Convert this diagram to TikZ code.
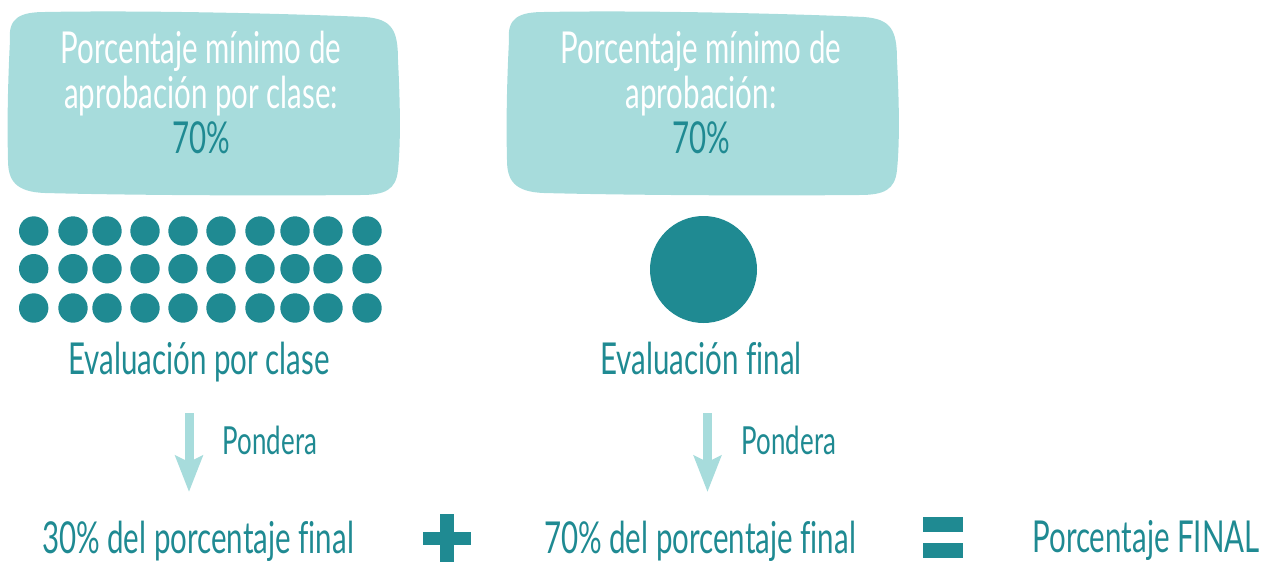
\documentclass[tikz,border=0pt]{standalone}
\usepackage{fontspec}
\setmainfont{Lato}[FakeStretch=0.67,Ligatures=NoCommon]
\usetikzlibrary{arrows.meta}

\definecolor{tealdark}{HTML}{1F8A92}
\definecolor{teallight}{HTML}{A7DCDC}

\tikzset{
 txt/.style={font=\fontsize{33}{33.75}\selectfont, text=tealdark, inner sep=0pt, anchor=base},
 boxtxt/.style={txt, text=white, align=center},
 smalltxt/.style={txt, font=\fontsize{29}{30}\selectfont},
 flecha/.style={draw=teallight, line width=6.75pt,
   -{Stealth[length=27pt,width=20.25pt,inset=4.5pt]}}
}

\begin{document}
\begin{tikzpicture}[x=0.75pt,y=-0.75pt]
\useasboundingbox (0,0) rectangle (1263,561);

\newcommand{\blob}[1] % [x shift]
{
 \fill[teallight,shift={(#1,0)}] (10,40)
   .. controls (8,18) and (20,12) .. (45,12)
   .. controls (150,10) and (300,14) .. (365,17)
   .. controls (392,19) and (398,30) .. (398,60)
   .. controls (400,100) and (401,140) .. (398,170)
   .. controls (396,190) and (385,195) .. (360,195)
   .. controls (250,196) and (120,195) .. (45,193)
   .. controls (15,192) and (8,180) .. (8,160)
   .. controls (7,120) and (8,80) .. (10,40) -- cycle;
}
\blob{0} \blob{499}

\node[boxtxt] (minclase) at (201,153)
 {Porcentaje mínimo de\\aprobación por clase:\\\textcolor{tealdark}{70\%}};
\node[boxtxt] (minfinal) at (701,153)
 {Porcentaje mínimo de\\aprobación:\\\textcolor{tealdark}{70\%}};

% evaluaciones por clase
\foreach \y in {231,268.7,308}
 \foreach \x in {33.7,73,107,145,183,221,260,295,328,367}
  \fill[tealdark] (\x,\y) circle (14.7);
% evaluacion final
\fill[tealdark] (703.5,269.5) circle (53.5);

\node[txt] (evclase) at (199,374) {Evaluación por clase};
\node[txt] (evfinal) at (701,374) {Evaluación final};

\coordinate (clasetop) at (189,413);
\coordinate (clasetip) at (189,492);
\coordinate (finaltop) at (707.5,413);
\coordinate (finaltip) at (707.5,492);
\draw[flecha] (clasetop) -- (clasetip);
\draw[flecha] (finaltop) -- (finaltip);
\node[smalltxt] (pondclase) at (270,454) {Pondera};
\node[smalltxt] (pondfinal) at (789,454) {Pondera};

\node[txt] (res30) at (198,553) {30\% del porcentaje final};
\node[txt] (res70) at (700,553) {70\% del porcentaje final};
\node[txt] (total) at (1146,552) {Porcentaje FINAL};

% signos
\fill[tealdark] (423,532) rectangle (471,545);
\fill[tealdark] (440,514) rectangle (454,562);
\fill[tealdark] (923,517) rectangle (963,532);
\fill[tealdark] (923,543) rectangle (963,558);
\end{tikzpicture}
\end{document}
